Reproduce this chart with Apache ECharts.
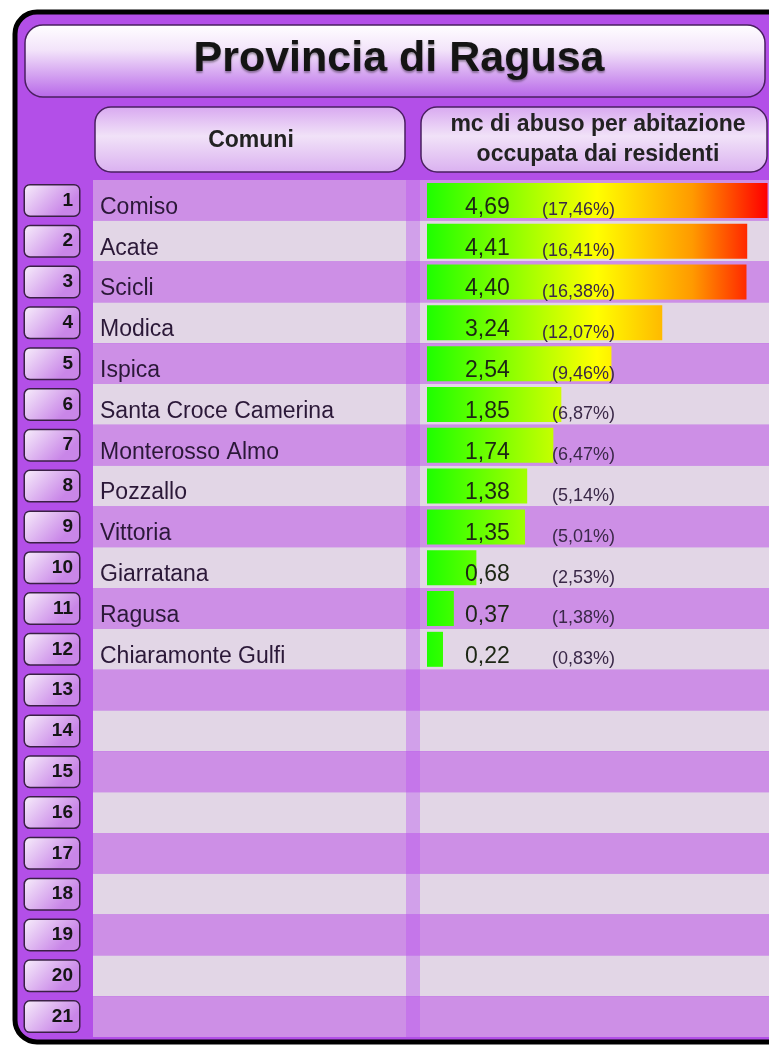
<!DOCTYPE html>
<html>
<head>
<meta charset="utf-8">
<title>Provincia di Ragusa</title>
<script src="https://cdn.jsdelivr.net/npm/echarts@6/dist/echarts.min.js"></script>
<style>
  html, body { margin: 0; padding: 0; background: #fff; }
  #chart { width: 769px; height: 1045px; }
</style>
</head>
<body>
<div id="chart"></div>
<script>
// dati
const comuni = ['Comiso', 'Acate', 'Scicli', 'Modica', 'Ispica', 'Santa Croce Camerina',
  'Monterosso Almo', 'Pozzallo', 'Vittoria', 'Giarratana', 'Ragusa', 'Chiaramonte Gulfi']
const mcAbuso = [4.69, 4.41, 4.40, 3.24, 2.54, 1.85, 1.74, 1.38, 1.35, 0.68, 0.37, 0.22]
const quota = [17.46, 16.41, 16.38, 12.07, 9.46, 6.87, 6.47, 5.14, 5.01, 2.53, 1.38, 0.83]
const posizioni = ['1', '2', '3', '4', '5', '6', '7', '8', '9', '10', '11',
  '12', '13', '14', '15', '16', '17', '18', '19', '20', '21']

// righe vuote fino a 21
const righe = posizioni.map((p, i) => comuni[i] || '')
const virgola = (n, d) => n.toFixed(d).replace('.', ',')

const LG = echarts.graphic.LinearGradient
const font = 'Liberation Sans, Arial, sans-serif'

const myChart = echarts.init(document.getElementById('chart'), null, { renderer: 'canvas' })

myChart.setOption({
  backgroundColor: '#ffffff',
  animation: false,
  textStyle: { fontFamily: font },
  graphic: [
    // cornice
    { type: 'rect', z: -10, shape: { x: 15, y: 12, width: 800, height: 1030, r: 22 },
      style: { fill: '#b34fe8', stroke: '#000', lineWidth: 5 } },
    // box titolo
    { type: 'rect', z: -5, shape: { x: 25, y: 25, width: 740, height: 72, r: 18 },
      style: { fill: new LG(0, 0, 0, 1, [
        { offset: 0, color: '#ffffff' }, { offset: 0.35, color: '#f3e4fa' }, { offset: 1, color: '#b766e8' }]),
        stroke: '#4a2060', lineWidth: 1.5 } },
    // box intestazioni
    { type: 'rect', z: -5, shape: { x: 95, y: 107, width: 310, height: 65, r: 16 },
      style: { fill: new LG(0, 0, 0, 1, [
        { offset: 0, color: '#d8a8f0' }, { offset: 0.45, color: '#f1e2f8' }, { offset: 1, color: '#dab0f0' }]),
        stroke: '#4a2060', lineWidth: 1.5 } },
    { type: 'rect', z: -5, shape: { x: 421, y: 107, width: 346, height: 65, r: 16 },
      style: { fill: new LG(0, 0, 0, 1, [
        { offset: 0, color: '#d8a8f0' }, { offset: 0.45, color: '#f1e2f8' }, { offset: 1, color: '#dab0f0' }]),
        stroke: '#4a2060', lineWidth: 1.5 } },
    // separatore colonne
    { type: 'rect', z: 5, shape: { x: 406, y: 180, width: 14, height: 857 },
      style: { fill: 'rgba(185,80,240,0.4)' } },
    // testi
    { type: 'text', z: 10, style: { x: 399, y: 59, text: 'Provincia di Ragusa', align: 'center',
      verticalAlign: 'middle', font: 'bold 43px ' + font, fill: '#141414',
      textShadowColor: 'rgba(0,0,0,0.35)', textShadowBlur: 2, textShadowOffsetY: 2 } },
    { type: 'text', z: 10, style: { x: 251, y: 141, text: 'Comuni', align: 'center',
      verticalAlign: 'middle', font: 'bold 23px ' + font, fill: '#222' } },
    { type: 'text', z: 10, style: { x: 598, y: 140, text: 'mc di abuso per abitazione\noccupata dai residenti',
      align: 'center', verticalAlign: 'middle', font: 'bold 23px ' + font, fill: '#222', lineHeight: 30 } }
  ],
  grid: [
    { left: 93, right: 0, top: 180, height: 857 },
    { left: 427, right: 0, top: 180, height: 857 }
  ],
  xAxis: [
    { gridIndex: 0, type: 'value', show: false, min: 0, max: 1 },
    { gridIndex: 1, type: 'value', show: false, min: 0, max: 4.71 }
  ],
  yAxis: [
    {
      gridIndex: 0, type: 'category', inverse: true, data: righe,
      axisLine: { show: false }, axisTick: { show: false },
      axisLabel: { inside: true, margin: 7, fontSize: 23, color: '#2b1838',
        verticalAlign: 'top', lineHeight: 14 },
      splitArea: { show: true, areaStyle: { color: ['#cd8fe6', '#e2d6e6'] } }
    },
    {
      gridIndex: 0, type: 'category', inverse: true, position: 'left', data: posizioni,
      axisLine: { show: false }, axisTick: { show: false },
      axisLabel: {
        margin: 14, align: 'right', fontSize: 19, fontWeight: 'bold', color: '#151515',
        width: 42, height: 24, lineHeight: 24, padding: [3, 6, 3, 6], borderRadius: 5,
        borderColor: '#3a2045', borderWidth: 1.5,
        backgroundColor: new LG(0, 0, 0.6, 1, [
          { offset: 0, color: '#f8f0fb' }, { offset: 1, color: '#c986e8' }])
      }
    },
    { gridIndex: 1, type: 'category', inverse: true, show: false, data: righe }
  ],
  series: [
    {
      type: 'bar', xAxisIndex: 1, yAxisIndex: 2, barWidth: 35,
      data: mcAbuso,
      itemStyle: {
        color: new LG(427, 0, 767, 0, [
          { offset: 0, color: '#1eff00' }, { offset: 0.5, color: '#ffff00' },
          { offset: 0.78, color: '#ff9a00' }, { offset: 1, color: '#ff0000' }], true)
      },
      label: {
        show: true, position: [38, '50%'], verticalAlign: 'middle', offset: [0, 4],
        formatter: p => '{v|' + virgola(p.value, 2) + '}{p|(' + virgola(quota[p.dataIndex], 2) + '%)}',
        rich: {
          v: { fontSize: 23, width: 73, color: '#1c2614', padding: [6, 0, 0, 0] },
          p: { fontSize: 18, width: 77, align: 'right', color: '#3a2848', padding: [12, 0, 0, 0] }
        }
      }
    }
  ]
})
</script>
</body>
</html>
